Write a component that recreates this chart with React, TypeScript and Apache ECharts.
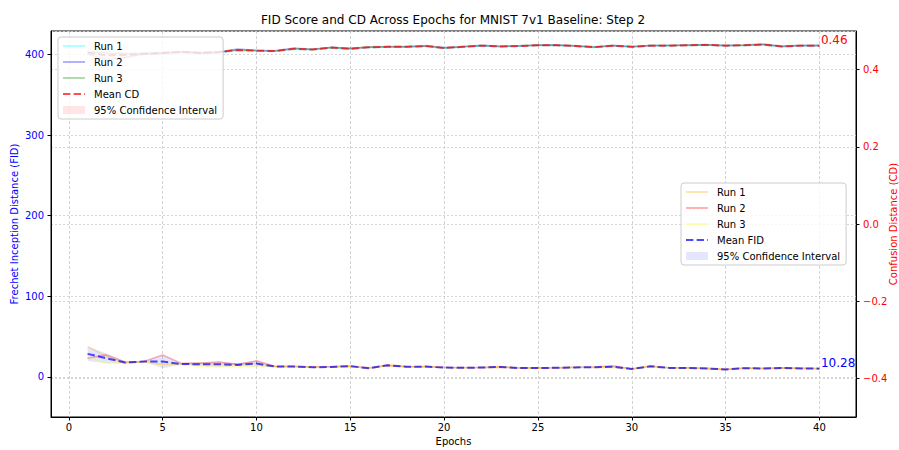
import React, { useEffect, useRef } from 'react';
import * as echarts from 'echarts';

const TITLE = 'FID Score and CD Across Epochs for MNIST 7v1 Baseline: Step 2';
const X_NAME = 'Epochs';
const Y_LEFT_NAME = 'Frechet Inception Distance (FID)';
const Y_RIGHT_NAME = 'Confusion Distance (CD)';

const epochs = [1, 2, 3, 4, 5, 6, 7, 8, 9, 10, 11, 12, 13, 14, 15, 16, 17, 18, 19, 20,
  21, 22, 23, 24, 25, 26, 27, 28, 29, 30, 31, 32, 33, 34, 35, 36, 37, 38, 39, 40];

const fidRun1 = [37.7, 25.3, 16.6, 19.2, 15.5, 16.2, 16.8, 16.0, 16.0, 16.6,
  13.0, 12.6, 12.0, 12.4, 13.0, 10.4, 15.2, 12.4, 13.2, 11.6,
  11.2, 11.4, 12.8, 10.8, 11.0, 11.4, 11.6, 11.8, 12.0, 9.6,
  13.6, 11.0, 11.0, 10.4, 9.0, 10.8, 10.2, 11.0, 10.6, 10.2];
const fidRun2 = [23.2, 27.3, 18.6, 19.0, 27.3, 16.8, 17.0, 18.6, 15.6, 19.9,
  12.9, 13.2, 12.4, 12.8, 13.6, 11.4, 14.0, 12.8, 12.6, 11.8,
  11.6, 11.8, 12.2, 11.2, 11.2, 11.2, 12.0, 12.4, 13.8, 10.2,
  13.0, 11.4, 11.2, 10.6, 9.4, 11.0, 10.6, 11.2, 10.8, 10.44];
const fidRun3 = [24.9, 17.0, 18.2, 18.8, 14.2, 15.0, 13.3, 12.5, 13.1, 13.3,
  12.5, 12.6, 11.6, 12.0, 13.0, 10.6, 14.3, 12.6, 12.6, 11.4,
  11.4, 11.6, 12.2, 11.0, 10.8, 11.3, 11.8, 11.8, 12.0, 9.6,
  13.0, 11.2, 10.8, 10.5, 9.2, 10.6, 10.4, 10.8, 10.4, 10.2];

const cdRun1 = [0.446, 0.442, 0.441, 0.441, 0.444, 0.446, 0.443, 0.444, 0.449, 0.448,
  0.447, 0.452, 0.451, 0.456, 0.452, 0.457, 0.458, 0.458, 0.460, 0.455,
  0.458, 0.461, 0.459, 0.460, 0.462, 0.462, 0.460, 0.457, 0.461, 0.458,
  0.461, 0.461, 0.462, 0.463, 0.461, 0.462, 0.464, 0.459, 0.461, 0.461];
const cdRun2 = [0.440, 0.426, 0.431, 0.440, 0.441, 0.447, 0.444, 0.446, 0.453, 0.450,
  0.449, 0.456, 0.452, 0.458, 0.455, 0.458, 0.459, 0.459, 0.461, 0.457,
  0.459, 0.462, 0.460, 0.461, 0.463, 0.464, 0.461, 0.458, 0.462, 0.459,
  0.462, 0.463, 0.463, 0.464, 0.462, 0.463, 0.465, 0.460, 0.462, 0.462];
const cdRun3 = [0.446, 0.443, 0.442, 0.442, 0.444, 0.445, 0.442, 0.445, 0.451, 0.449,
  0.448, 0.454, 0.453, 0.457, 0.455, 0.459, 0.460, 0.460, 0.462, 0.456,
  0.460, 0.463, 0.461, 0.462, 0.464, 0.463, 0.462, 0.459, 0.463, 0.460,
  0.463, 0.462, 0.464, 0.465, 0.463, 0.464, 0.466, 0.461, 0.463, 0.463];

const FONT = 'DejaVu Sans';

function stats(runs: number[][]) {
  const n = runs.length;
  const mean: number[] = [];
  const lo: number[] = [];
  const hi: number[] = [];
  for (let i = 0; i < runs[0].length; i++) {
    const vals = runs.map((r) => r[i]);
    const m = vals.reduce((a, b) => a + b, 0) / n;
    const v = vals.reduce((a, b) => a + (b - m) * (b - m), 0) / (n - 1);
    const h = (1.96 * Math.sqrt(v)) / Math.sqrt(n);
    mean.push(m);
    lo.push(m - h);
    hi.push(m + h);
  }
  return { mean, lo, hi };
}

const pairs = (ys: number[]) => epochs.map((x, i) => [x, ys[i]]);

const legendNames: Record<string, string> = {
  'CD Run 1': 'Run 1', 'CD Run 2': 'Run 2', 'CD Run 3': 'Run 3', 'Mean CD': 'Mean CD', 'CD CI': '95% Confidence Interval',
  'FID Run 1': 'Run 1', 'FID Run 2': 'Run 2', 'FID Run 3': 'Run 3', 'Mean FID': 'Mean FID', 'FID CI': '95% Confidence Interval',
};

export default function App() {
  const ref = useRef<HTMLDivElement>(null);
  useEffect(() => {
    if (!ref.current) return;
    const chart = echarts.init(ref.current, undefined, { renderer: 'svg' });
    const fid = stats([fidRun1, fidRun2, fidRun3]);
    const cd = stats([cdRun1, cdRun2, cdRun3]);
    const last = epochs.length - 1;

    const runLine = (name: string, data: number[], color: string, yAxisIndex: number) => ({
      type: 'line', name, yAxisIndex, data: pairs(data), symbol: 'none', showSymbol: false,
      lineStyle: { color, width: 1.6 }, itemStyle: { color }, silent: true,
    });
    const band = (name: string, s: { lo: number[]; hi: number[] }, color: string, yAxisIndex: number) => ({
      type: 'custom', name, yAxisIndex, silent: true, clip: true,
      data: epochs.map((x, i) => [x, s.lo[i], s.hi[i]]),
      encode: { x: 0, y: [1, 2] },
      itemStyle: { color },
      renderItem: (params: any, api: any) => {
        if (params.dataIndex !== 0) return null;
        const upper = epochs.map((x, i) => api.coord([x, s.hi[i]]));
        const lower = epochs.map((x, i) => api.coord([x, s.lo[i]])).reverse();
        return { type: 'polygon', shape: { points: upper.concat(lower) }, style: { fill: color, stroke: 'none' } };
      },
    });
    const meanLine = (name: string, data: number[], color: string, yAxisIndex: number, labelColor: string, text: string) => ({
      type: 'line', name, yAxisIndex, data: pairs(data), symbol: 'none', showSymbol: false,
      lineStyle: { color, width: 2, type: [7.4, 3.2] }, itemStyle: { color }, silent: true,
      markPoint: {
        symbol: 'circle', symbolSize: 1, silent: true,
        itemStyle: { color: 'rgba(0,0,0,0)' },
        label: { show: true, position: 'right', distance: 1, offset: [0, -6], color: labelColor, fontSize: 12, fontFamily: FONT, formatter: text },
        data: [{ coord: [epochs[last], data[last]] }],
      },
    });

    const legendBase = {
      orient: 'vertical', itemWidth: 22, itemHeight: 8, itemGap: 6,
      padding: [4, 6, 4, 4], backgroundColor: 'rgba(255,255,255,0.8)', borderColor: '#cccccc', borderWidth: 1, borderRadius: 3,
      textStyle: { fontSize: 10, color: '#000', fontFamily: FONT, padding: [0, 0, 0, 4] },
      itemStyle: { opacity: 0 },
      formatter: (n: string) => legendNames[n] ?? n,
      selectedMode: false,
    };

    const option: any = {
      animation: false,
      backgroundColor: '#ffffff',
      textStyle: { fontFamily: FONT },
      grid: {
        left: 51, right: 43, top: 31, bottom: 33, show: true, borderColor: '#000', borderWidth: 1,
        backgroundColor: 'rgba(0,0,0,0)', containLabel: false, outerBoundsMode: 'none',
      },
      graphic: [{
        type: 'text', x: 453, y: 20, z: 10,
        style: { text: TITLE, fill: '#000', fontSize: 12, fontFamily: FONT, align: 'center', verticalAlign: 'middle' },
      }],
      xAxis: {
        type: 'value', min: -0.95, max: 41.95, minInterval: 5, maxInterval: 5, splitNumber: 8,
        name: X_NAME, nameLocation: 'middle', nameGap: 19, nameMoveOverlap: false,
        nameTextStyle: { fontSize: 10, color: '#000', fontFamily: FONT },
        axisLine: { show: true, onZero: false, lineStyle: { color: '#000', width: 1 } },
        axisTick: { show: true, inside: false, length: 3.5, lineStyle: { color: '#000' } },
        axisLabel: { show: true, margin: 5, fontSize: 10, color: '#000', fontFamily: FONT, showMinLabel: false, showMaxLabel: false, formatter: (v: number) => String(v) },
        splitLine: { show: true, lineStyle: { color: '#c8c8c8', type: [3, 2], width: 0.8 } },
      },
      yAxis: [
        {
          type: 'value', position: 'left', min: -49.7, max: 429, minInterval: 100, maxInterval: 100,
          name: Y_LEFT_NAME, nameLocation: 'middle', nameGap: 32, nameRotate: 90, nameMoveOverlap: false,
          nameTextStyle: { fontSize: 10, color: 'blue', fontFamily: FONT },
          axisLine: { show: true, onZero: false, lineStyle: { color: '#000', width: 1 } },
          axisTick: { show: true, inside: false, length: 3.5, lineStyle: { color: '#000' } },
          axisLabel: { show: true, margin: 7, fontSize: 10, color: 'blue', fontFamily: FONT, showMinLabel: false, showMaxLabel: false, formatter: (v: number) => String(v) },
          splitLine: { show: true, lineStyle: { color: '#cccccc', type: [2, 2], width: 0.8 } },
        },
        {
          type: 'value', position: 'right', min: -0.5, max: 0.5, minInterval: 0.2, maxInterval: 0.2,
          name: Y_RIGHT_NAME, nameLocation: 'middle', nameGap: 32, nameRotate: 90, nameMoveOverlap: false,
          nameTextStyle: { fontSize: 10, color: 'red', fontFamily: FONT },
          axisLine: { show: true, onZero: false, lineStyle: { color: '#000', width: 1 } },
          axisTick: { show: true, inside: false, length: 3.5, lineStyle: { color: '#000' } },
          axisLabel: {
            show: true, margin: 7, fontSize: 10, color: 'red', fontFamily: FONT, showMinLabel: false, showMaxLabel: false,
            formatter: (v: number) => (v < -1e-9 ? '\u2212' + Math.abs(v).toFixed(1) : Math.abs(v).toFixed(1)),
          },
          splitLine: { show: true, lineStyle: { color: '#cccccc', type: [2, 2], width: 0.8 } },
        },
      ],
      legend: [
        {
          ...legendBase, left: 58, top: 37,
          data: ['CD Run 1', 'CD Run 2', 'CD Run 3', 'Mean CD',
            { name: 'CD CI', icon: 'rect', itemStyle: { color: 'rgba(255,0,0,0.1)', opacity: 1 } }],
        },
        {
          ...legendBase, left: 681, top: 183,
          data: ['FID Run 1', 'FID Run 2', 'FID Run 3', 'Mean FID',
            { name: 'FID CI', icon: 'rect', itemStyle: { color: 'rgba(0,0,255,0.1)', opacity: 1 } }],
        },
      ],
      series: [
        band('CD CI', cd, 'rgba(255,0,0,0.1)', 1),
        runLine('CD Run 1', cdRun1, 'rgba(0,255,255,0.3)', 1),
        runLine('CD Run 2', cdRun2, 'rgba(0,0,255,0.3)', 1),
        runLine('CD Run 3', cdRun3, 'rgba(0,128,0,0.3)', 1),
        meanLine('Mean CD', cd.mean, 'rgba(255,0,0,0.7)', 1, 'red', cd.mean[last].toFixed(2)),
        band('FID CI', fid, 'rgba(0,0,255,0.1)', 0),
        runLine('FID Run 1', fidRun1, 'rgba(255,165,0,0.3)', 0),
        runLine('FID Run 2', fidRun2, 'rgba(255,0,0,0.3)', 0),
        runLine('FID Run 3', fidRun3, 'rgba(255,255,0,0.3)', 0),
        meanLine('Mean FID', fid.mean, 'rgba(0,0,255,0.7)', 0, 'blue', fid.mean[last].toFixed(2)),
      ],
    };
    chart.setOption(option);
    return () => chart.dispose();
  }, []);
  return (
    <div
      ref={ref}
      style={{ position: 'fixed', left: 0, top: 0, width: 899, height: 450, background: '#fff' }}
    />
  );
}
